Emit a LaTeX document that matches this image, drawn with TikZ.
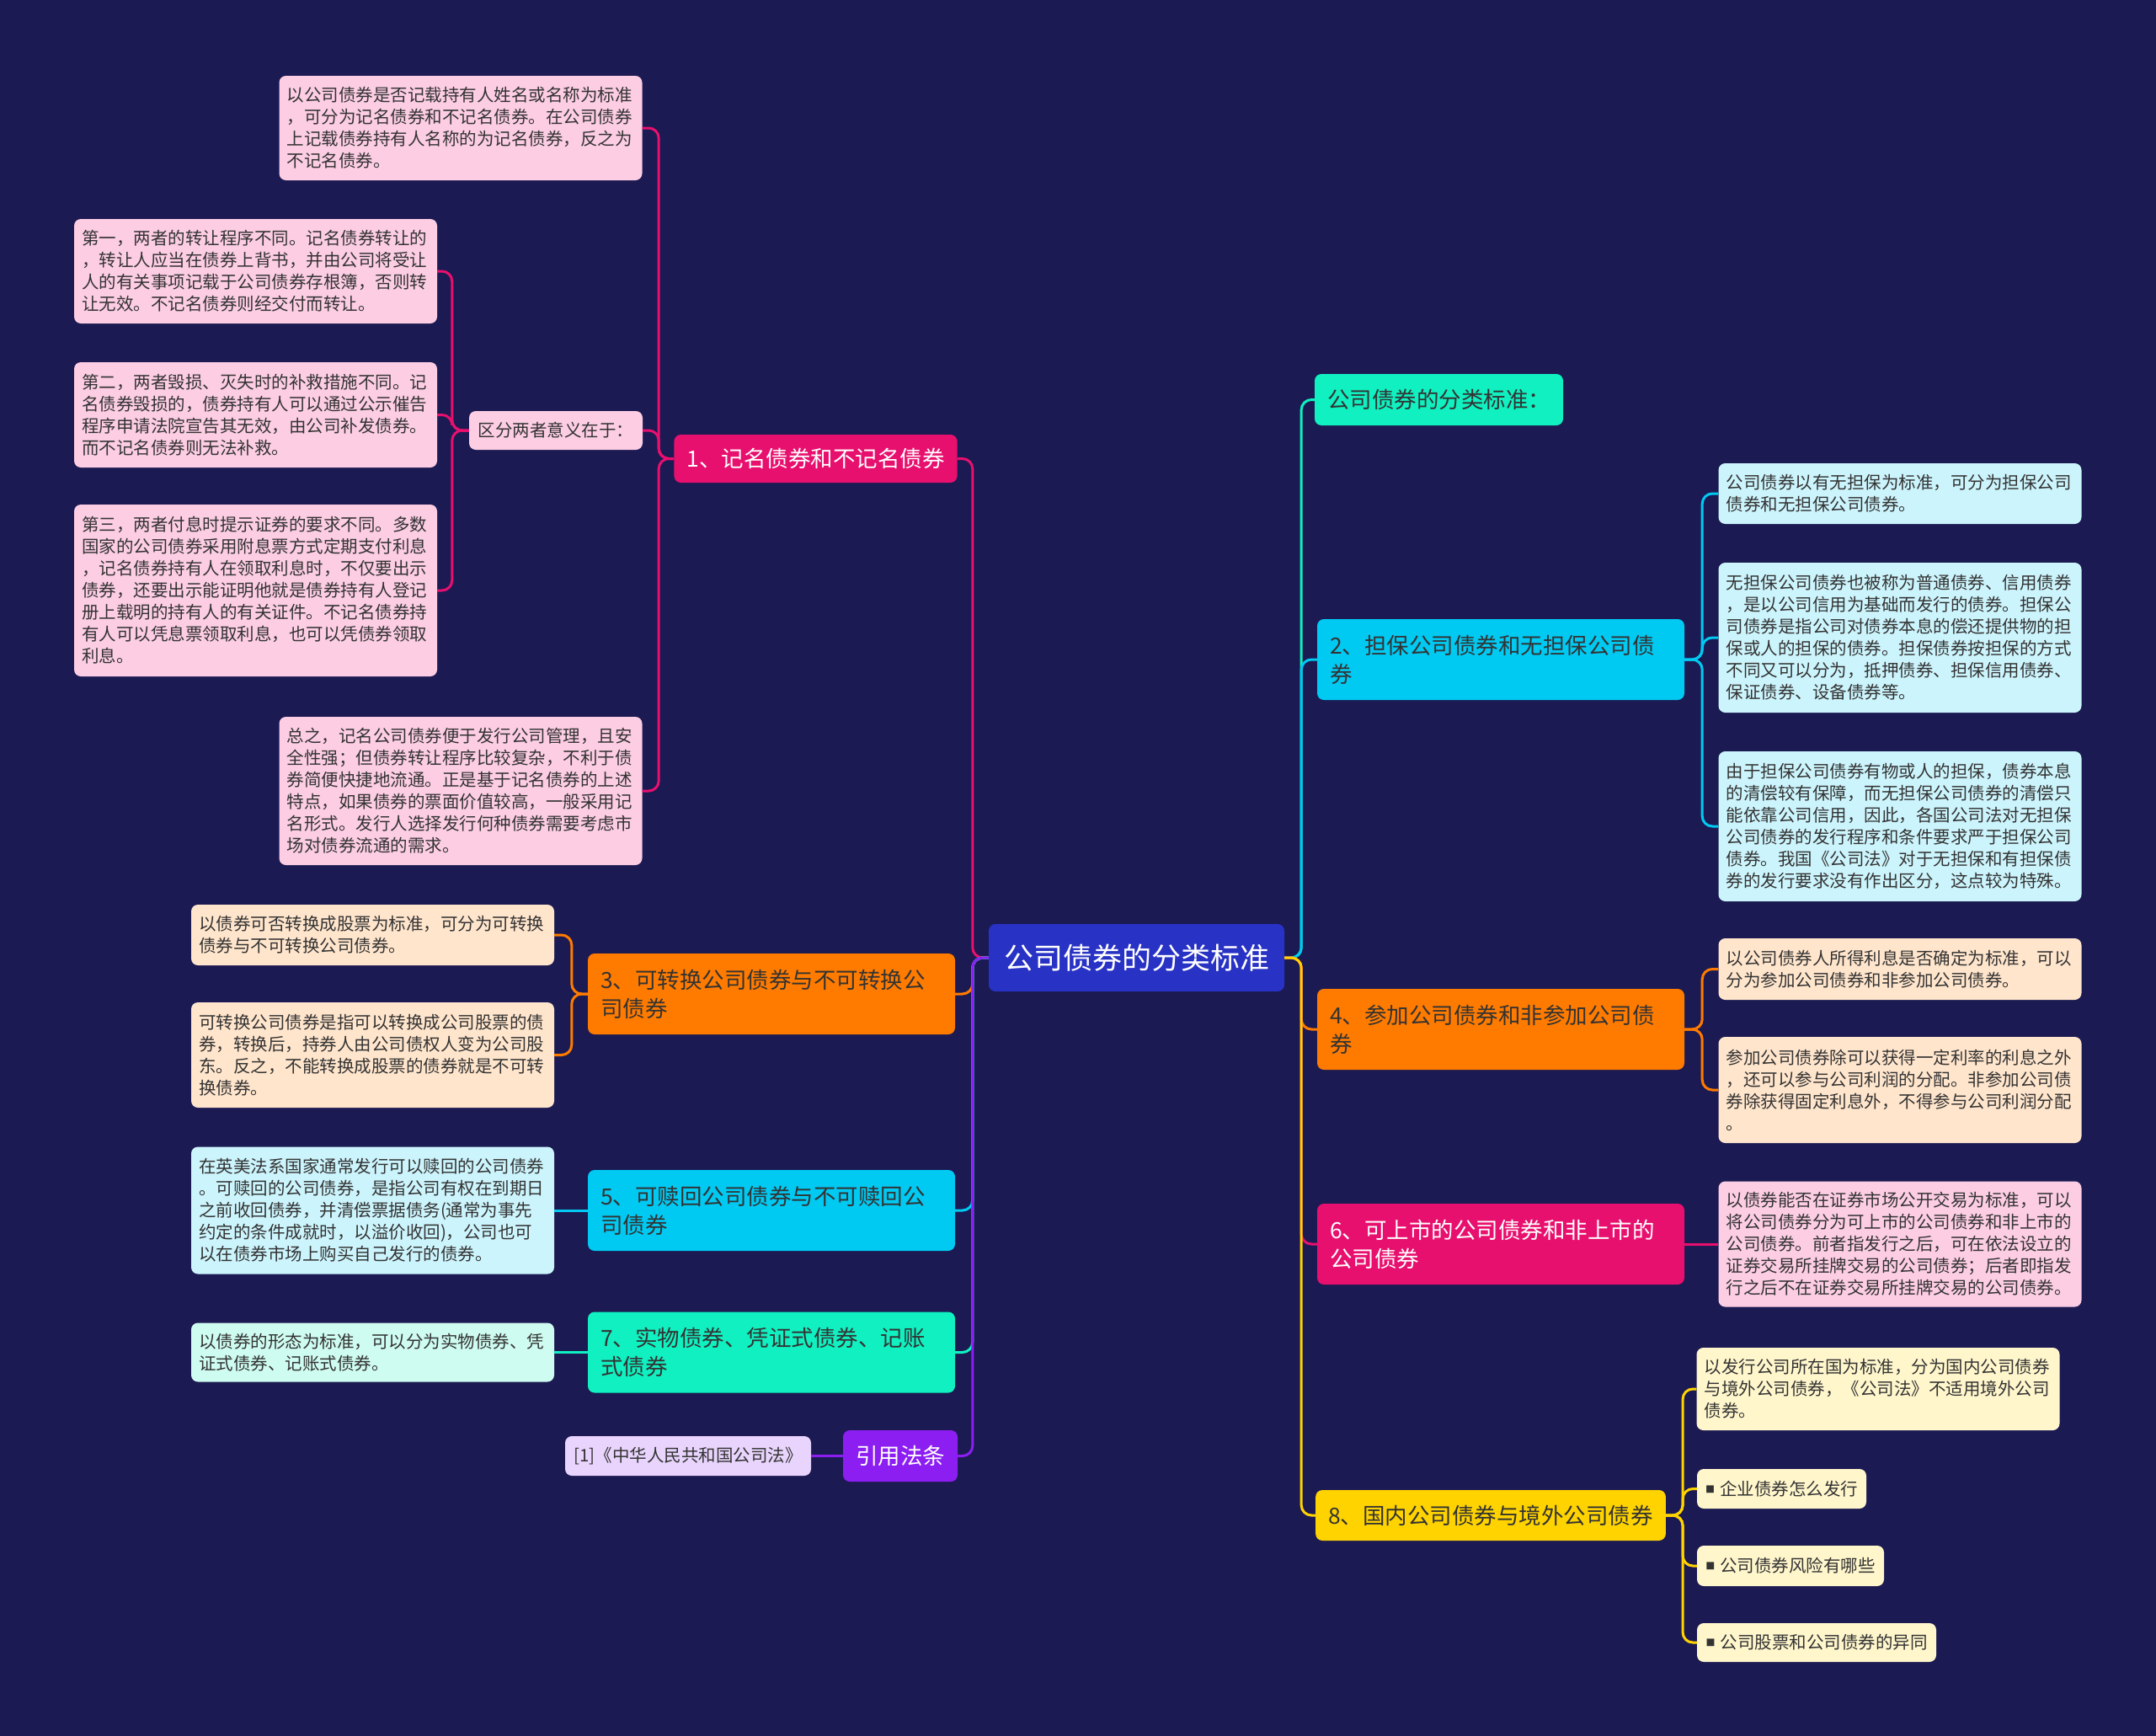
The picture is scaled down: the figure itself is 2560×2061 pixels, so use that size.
\documentclass[tikz,border=0pt]{standalone}
\usepackage{fontspec}
\setmainfont{Noto Sans CJK SC}

\definecolor{bg}{HTML}{1B1A52}
\definecolor{rootc}{HTML}{2832C4}
\definecolor{rosec}{HTML}{E8106E}
\definecolor{rosel}{HTML}{FCCDE3}
\definecolor{amberc}{HTML}{FF7B00}
\definecolor{amberl}{HTML}{FFE5CC}
\definecolor{skyc}{HTML}{00C9F2}
\definecolor{skyl}{HTML}{CCF4FC}
\definecolor{mintc}{HTML}{10F0C0}
\definecolor{mintl}{HTML}{CFFCF0}
\definecolor{violc}{HTML}{8C1EF2}
\definecolor{violl}{HTML}{E8D4FC}
\definecolor{goldc}{HTML}{FFD300}
\definecolor{goldl}{HTML}{FFF6CC}
\definecolor{ink}{HTML}{333333}

\tikzset{
	rootbox/.style={fill=rootc, text=white, rounded corners=8pt, font=\fontsize{35}{40}\selectfont, minimum width=351pt, minimum height=80pt},
	topic/.style={rounded corners=8pt, font=\fontsize{26.5}{34}\selectfont, inner xsep=15pt, align=left, text=ink},
	twoline/.style={text width=406pt, minimum height=96pt},
	note/.style={rounded corners=8pt, font=\fontsize{20.5}{26}\selectfont, inner xsep=9pt, align=left, text=ink, text width=413pt},
	tag/.style={rounded corners=8pt, font=\fontsize{20.5}{26}\selectfont, inner xsep=10pt, text=ink},
	link/.style={line width=3pt, rounded corners=12pt},
}
\newcommand{\sqbullet}{\raisebox{3pt}{\fontsize{11}{11}\selectfont ■}\hspace{6pt}}

\begin{document}
\begin{tikzpicture}[x=1pt,y=-1pt]

		\fill[bg] (0,0) rectangle (2560,2061);
		\useasboundingbox (0,0) rectangle (2560,2061);

		% centre
		\node[rootbox] (root) at (1349.5,1137) {公司债券的分类标准};

		% left branches
		\node[topic, fill=rosec, text=white, minimum width=333pt, minimum height=57pt] (n1) at (968.5,544.5) {1、记名债券和不记名债券};
		\node[note, fill=rosel, minimum height=124pt] (n1a) at (547,152) {以公司债券是否记载持有人姓名或名称为标准\\，可分为记名债券和不记名债券。在公司债券\\上记载债券持有人名称的为记名债券，反之为\\不记名债券。};
		\node[tag, fill=rosel, minimum width=206pt, minimum height=46pt] (n1b) at (660,511) {区分两者意义在于：};
		\node[note, fill=rosel, minimum height=176pt] (n1c) at (547,939) {总之，记名公司债券便于发行公司管理，且安\\全性强；但债券转让程序比较复杂，不利于债\\券简便快捷地流通。正是基于记名债券的上述\\特点，如果债券的票面价值较高，一般采用记\\名形式。发行人选择发行何种债券需要考虑市\\场对债券流通的需求。};
		\node[note, fill=rosel, minimum height=124pt] (n1b1) at (303.5,322) {第一，两者的转让程序不同。记名债券转让的\\，转让人应当在债券上背书，并由公司将受让\\人的有关事项记载于公司债券存根簿，否则转\\让无效。不记名债券则经交付而转让。};
		\node[note, fill=rosel, minimum height=125pt] (n1b2) at (303.5,492.5) {第二，两者毁损、灭失时的补救措施不同。记\\名债券毁损的，债券持有人可以通过公示催告\\程序申请法院宣告其无效，由公司补发债券。\\而不记名债券则无法补救。};
		\node[note, fill=rosel, minimum height=204pt] (n1b3) at (303.5,701) {第三，两者付息时提示证券的要求不同。多数\\国家的公司债券采用附息票方式定期支付利息\\，记名债券持有人在领取利息时，不仅要出示\\债券，还要出示能证明他就是债券持有人登记\\册上载明的持有人的有关证件。不记名债券持\\有人可以凭息票领取利息，也可以凭债券领取\\利息。};

		\node[topic, twoline, fill=amberc] (n3) at (916,1180) {3、可转换公司债券与不可转换公\\司债券};
		\node[note, fill=amberl, minimum height=72pt] (n3a) at (442.5,1110) {以债券可否转换成股票为标准，可分为可转换\\债券与不可转换公司债券。};
		\node[note, fill=amberl, minimum height=125pt] (n3b) at (442.5,1252.5) {可转换公司债券是指可以转换成公司股票的债\\券，转换后，持券人由公司债权人变为公司股\\东。反之，不能转换成股票的债券就是不可转\\换债券。};

		\node[topic, twoline, fill=skyc] (n5) at (916,1437) {5、可赎回公司债券与不可赎回公\\司债券};
		\node[note, fill=skyl, minimum height=151pt] (n5a) at (442.5,1437) {在英美法系国家通常发行可以赎回的公司债券\\。可赎回的公司债券，是指公司有权在到期日\\之前收回债券，并清偿票据债务(通常为事先\\约定的条件成就时，以溢价收回)，公司也可\\以在债券市场上购买自己发行的债券。};

		\node[topic, twoline, fill=mintc] (n7) at (916,1605.5) {7、实物债券、凭证式债券、记账\\式债券};
		\node[note, fill=mintl, minimum height=70pt] (n7a) at (442.5,1605.5) {以债券的形态为标准，可以分为实物债券、凭\\证式债券、记账式债券。};

		\node[topic, fill=violc, text=white, minimum width=132pt, minimum height=61pt] (nref) at (1069,1728.5) {引用法条};
		\node[tag, fill=violl, minimum width=292pt, minimum height=47pt] (nrefa) at (817,1728.5) {[1]《中华人民共和国公司法》};

		% right branches
		\node[topic, fill=mintc, minimum width=289pt, minimum height=61pt] (nstd) at (1708.5,474.5) {公司债券的分类标准：};

		\node[topic, twoline, fill=skyc] (n2) at (1782,783) {2、担保公司债券和无担保公司债\\券};
		\node[note, fill=skyl, minimum height=72pt] (n2a) at (2256,586) {公司债券以有无担保为标准，可分为担保公司\\债券和无担保公司债券。};
		\node[note, fill=skyl, minimum height=178pt] (n2b) at (2256,757) {无担保公司债券也被称为普通债券、信用债券\\，是以公司信用为基础而发行的债券。担保公\\司债券是指公司对债券本息的偿还提供物的担\\保或人的担保的债券。担保债券按担保的方式\\不同又可以分为，抵押债券、担保信用债券、\\保证债券、设备债券等。};
		\node[note, fill=skyl, minimum height=178pt] (n2c) at (2256,981) {由于担保公司债券有物或人的担保，债券本息\\的清偿较有保障，而无担保公司债券的清偿只\\能依靠公司信用，因此，各国公司法对无担保\\公司债券的发行程序和条件要求严于担保公司\\债券。我国《公司法》对于无担保和有担保债\\券的发行要求没有作出区分，这点较为特殊。};

		\node[topic, twoline, fill=amberc] (n4) at (1782,1222) {4、参加公司债券和非参加公司债\\券};
		\node[note, fill=amberl, minimum height=73pt] (n4a) at (2256,1150.5) {以公司债券人所得利息是否确定为标准，可以\\分为参加公司债券和非参加公司债券。};
		\node[note, fill=amberl, minimum height=126pt] (n4b) at (2256,1294) {参加公司债券除可以获得一定利率的利息之外\\，还可以参与公司利润的分配。非参加公司债\\券除获得固定利息外，不得参与公司利润分配\\。};

		\node[topic, twoline, fill=rosec, text=white] (n6) at (1782,1477) {6、可上市的公司债券和非上市的\\公司债券};
		\node[note, fill=rosel, minimum height=149pt] (n6a) at (2256,1477) {以债券能否在证券市场公开交易为标准，可以\\将公司债券分为可上市的公司债券和非上市的\\公司债券。前者指发行之后，可在依法设立的\\证券交易所挂牌交易的公司债券；后者即指发\\行之后不在证券交易所挂牌交易的公司债券。};

		\node[topic, fill=goldc, minimum width=412pt, minimum height=60pt] (n8) at (1770,1799) {8、国内公司债券与境外公司债券};
		\node[note, fill=goldl, minimum height=98pt] (n8a) at (2230,1649) {以发行公司所在国为标准，分为国内公司债券\\与境外公司债券，《公司法》不适用境外公司\\债券。};
		\node[tag, fill=goldl, minimum width=201pt, minimum height=47pt] (n8b) at (2115.5,1767.5) {\sqbullet 企业债券怎么发行};
		\node[tag, fill=goldl, minimum width=222pt, minimum height=48pt] (n8c) at (2126,1859) {\sqbullet 公司债券风险有哪些};
		\node[tag, fill=goldl, minimum width=284pt, minimum height=46pt] (n8d) at (2157,1950) {\sqbullet 公司股票和公司债券的异同};

		% connectors, left
		\draw[link, rosec] (root.west) -- ++(-19,0) |- (n1.east);
		\draw[link, amberc] (root.west) -- ++(-19,0) |- (n3.east);
		\draw[link, skyc] (root.west) -- ++(-19,0) |- (n5.east);
		\draw[link, mintc] (root.west) -- ++(-19,0) |- (n7.east);
		\draw[link, violc] (root.west) -- ++(-19,0) |- (nref.east);

		\draw[link, rosec] (n1.west) -- ++(-18,0) |- (n1a.east);
		\draw[link, rosec] (n1.west) -- ++(-18,0) |- (n1b.east);
		\draw[link, rosec] (n1.west) -- ++(-18,0) |- (n1c.east);
		\draw[link, rosec] (n1b.west) -- ++(-20,0) |- (n1b1.east);
		\draw[link, rosec] (n1b.west) -- ++(-20,0) |- (n1b2.east);
		\draw[link, rosec] (n1b.west) -- ++(-20,0) |- (n1b3.east);
		\draw[link, amberc] (n3.west) -- ++(-19,0) |- (n3a.east);
		\draw[link, amberc] (n3.west) -- ++(-19,0) |- (n3b.east);
		\draw[link, skyc] (n5.west) -- (n5a.east);
		\draw[link, mintc] (n7.west) -- (n7a.east);
		\draw[link, violc] (nref.west) -- (nrefa.east);

		% connectors, right
		\draw[link, mintc] (root.east) -- ++(20,0) |- (nstd.west);
		\draw[link, skyc] (root.east) -- ++(20,0) |- (n2.west);
		\draw[link, amberc] (root.east) -- ++(20,0) |- (n4.west);
		\draw[link, rosec] (root.east) -- ++(20,0) |- (n6.west);
		\draw[link, goldc] (root.east) -- ++(20,0) |- (n8.west);

		\draw[link, skyc] (n2.east) -- ++(21,0) |- (n2a.west);
		\draw[link, skyc] (n2.east) -- ++(21,0) |- (n2b.west);
		\draw[link, skyc] (n2.east) -- ++(21,0) |- (n2c.west);
		\draw[link, amberc] (n4.east) -- ++(21,0) |- (n4a.west);
		\draw[link, amberc] (n4.east) -- ++(21,0) |- (n4b.west);
		\draw[link, rosec] (n6.east) -- (n6a.west);
		\draw[link, goldc] (n8.east) -- ++(20,0) |- (n8a.west);
		\draw[link, goldc] (n8.east) -- ++(20,0) |- (n8b.west);
		\draw[link, goldc] (n8.east) -- ++(20,0) |- (n8c.west);
		\draw[link, goldc] (n8.east) -- ++(20,0) |- (n8d.west);

\end{tikzpicture}
\end{document}
